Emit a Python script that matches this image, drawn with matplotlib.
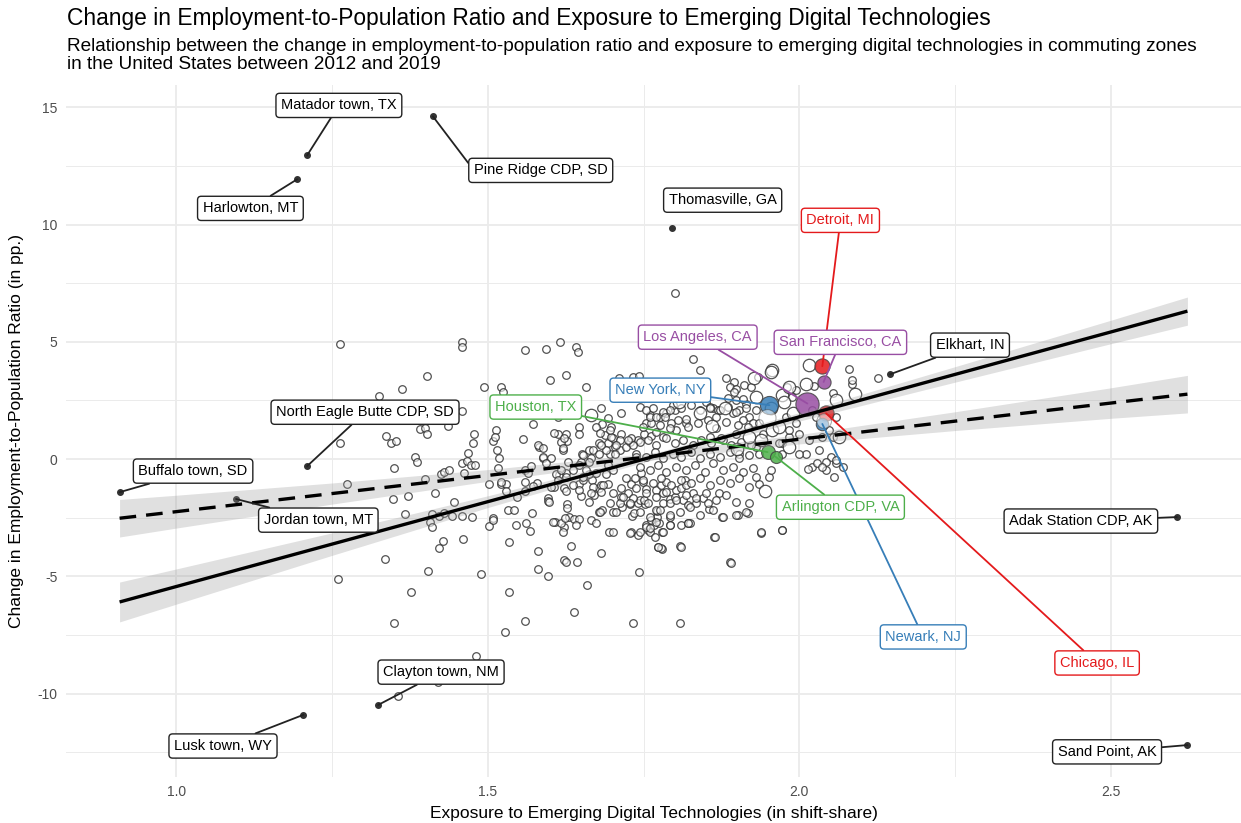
import numpy as np
import matplotlib.pyplot as plt
from matplotlib.ticker import MultipleLocator

plt.rcParams['font.family'] = ['Liberation Sans', 'DejaVu Sans']
plt.rcParams['axes.unicode_minus'] = False

title = "Change in Employment-to-Population Ratio and Exposure to Emerging Digital Technologies"
subtitle = ("Relationship between the change in employment-to-population ratio and exposure to emerging digital technologies in commuting zones\n"
            "in the United States between 2012 and 2019")

# commuting zones (exposure, change in emp-to-pop ratio)
zones = [
    (1.262, 4.91), (1.458, 5.00), (1.458, 4.78), (1.403, 3.54), (1.363, 2.98), (1.326, 2.70),
    (1.494, 3.08), (1.458, 2.06), (1.436, 1.42), (1.391, 1.28), (1.400, 1.33), (1.403, 1.09),
    (1.337, 0.99), (1.345, 0.67), (1.353, 0.78), (1.262, 0.67), (1.478, 1.09), (1.476, 0.69),
    (1.468, 0.27), (1.383, 0.09), (1.387, -0.11), (1.350, -0.38), (1.459, -0.18), (1.466, -0.07),
    (1.473, -0.27), (1.479, -0.26), (1.425, -0.64), (1.430, -0.54), (1.437, -0.47), (1.462, -0.61),
    (1.399, -0.85),
    (1.274, -1.08), (1.348, -1.69), (1.372, -1.59), (1.367, -2.36), (1.416, -1.45), (1.446, -1.82),
    (1.411, -2.33), (1.408, -2.70), (1.410, -2.91), (1.421, -2.43), (1.430, -2.31), (1.443, -2.41),
    (1.459, -2.41), (1.474, -2.46), (1.428, -3.51), (1.422, -3.80), (1.460, -3.42), (1.335, -4.25),
    (1.404, -4.79), (1.489, -4.90), (1.260, -5.10), (1.377, -5.67), (1.350, -7.00), (1.481, -8.39),
    (1.420, -9.51), (1.356, -10.10), (1.502, -2.84),
    (1.534, -3.52), (1.534, -5.68), (1.559, -6.90), (1.528, -7.37), (1.581, -3.91), (1.581, -4.69),
    (1.597, -4.99), (1.608, -2.67), (1.509, -2.50), (1.532, -2.17), (1.542, -2.17), (1.546, -2.81),
    (1.561, -2.71), (1.568, -3.08), (1.571, -2.29), (1.502, -1.04), (1.522, -1.04), (1.529, -1.04),
    (1.529, -1.35), (1.547, -1.63), (1.560, -1.35), (1.560, -0.98), (1.579, -1.01), (1.597, -1.67),
    (1.597, -1.78), (1.560, -0.46), (1.570, -0.30), (1.565, -0.57), (1.516, -0.37), (1.518, 0.04),
    (1.515, 0.38), (1.508, 0.77), (1.588, 0.06), (1.602, 0.06), (1.583, 0.52), (1.580, 0.61),
    (1.633, -3.72), (1.623, -4.30), (1.626, -4.40), (1.643, -4.39), (1.660, -5.37), (1.639, -6.52),
    (1.733, -6.99), (1.808, -7.00), (1.743, -4.83), (1.682, -4.00), (1.773, -3.74), (1.779, -3.85),
    (1.809, -3.72), (1.622, -2.90), (1.630, -2.46), (1.639, -2.56), (1.646, -2.56), (1.641, -2.81),
    (1.665, -2.60), (1.673, -2.71), (1.694, -3.10), (1.679, -2.27), (1.683, -2.17), (1.701, -2.26),
    (1.716, -2.03), (1.728, -1.93), (1.730, -3.10), (1.741, -3.24), (1.732, -2.43), (1.734, -2.31),
    (1.757, -3.00), (1.754, -2.81), (1.767, -2.81), (1.775, -2.71), (1.772, -2.46), (1.772, -2.20),
    (1.761, -3.12), (1.780, -3.12), (1.792, -2.82), (1.810, -2.82), (1.821, -2.71), (1.741, -1.89),
    (1.744, -1.75), (1.752, -1.93), (1.750, -1.75), (1.714, -1.63), (1.725, -1.46), (1.733, -1.67),
    (1.712, -1.89), (1.679, -1.25), (1.682, -1.10), (1.671, -1.55), (1.663, -1.82), (1.650, -1.58),
    (1.627, -1.90), (1.627, -2.08), (1.598, -1.82), (1.607, -1.18), (1.622, -1.25), (1.625, -1.35),
    (1.572, -1.14), (1.615, -0.68), (1.626, -0.61), (1.610, -0.64), (1.647, -1.04), (1.653, -0.89),
    (1.668, -0.89), (1.663, -0.64), (1.690, -0.64), (1.693, -1.04), (1.685, -1.11),
    (1.714, -1.25), (1.722, -0.82), (1.730, -1.04), (1.738, -1.21), (1.737, -0.82), (1.749, -0.97),
    (1.746, -0.61), (1.754, -1.29), (1.770, -1.32), (1.778, -1.11), (1.786, -0.97), (1.781, -1.46),
    (1.792, -1.68), (1.800, -1.60), (1.802, -1.32), (1.810, -1.25), (1.816, -0.90), (1.818, -1.11),
    (1.813, -1.75), (1.821, -1.96), (1.781, -1.89), (1.792, -1.89), (1.770, -2.17), (1.762, -2.60),
    (1.757, -1.89), (1.792, -2.46),
    (1.800, 7.09), (1.559, 4.64), (1.593, 4.69), (1.616, 5.00), (1.642, 4.78), (1.645, 4.57),
    (1.600, 3.38), (1.626, 3.58), (1.657, 3.08), (1.522, 3.08), (1.525, 2.87), (1.710, 3.48),
    (1.733, 3.51), (1.742, 3.55), (1.745, 2.22), (1.682, 2.16), (1.714, 1.95), (1.573, 1.49),
    (1.557, 0.84), (1.513, 1.24), (1.511, 0.95), (1.589, 0.47), (1.612, 1.09), (1.626, 1.09),
    (1.627, 0.78), (1.620, 0.41), (1.618, 0.71), (1.647, 1.38), (1.647, 1.07), (1.652, 0.24),
    (1.663, 0.38), (1.666, 0.03), (1.650, -0.11), (1.613, 1.80),
    (1.684, 1.49), (1.697, 1.38), (1.688, 1.02), (1.679, 0.67), (1.693, 0.67), (1.701, 0.88),
    (1.704, 0.53), (1.712, 0.38), (1.696, 0.24), (1.722, 0.53), (1.728, 0.74), (1.741, 0.81),
    (1.750, 1.06), (1.762, 0.98), (1.770, 1.16), (1.781, 0.95), (1.754, 1.52), (1.760, 1.88),
    (1.776, 1.80), (1.786, 1.95), (1.800, 2.09), (1.810, 2.16), (1.794, 1.52), (1.802, 1.24),
    (1.818, 1.52),
    (1.829, 4.25), (1.841, 3.79), (1.882, 3.44), (1.895, 3.29), (1.888, 3.08), (1.898, 3.01),
    (2.079, 3.86), (2.085, 3.22), (2.127, 3.48), (2.024, 3.11), (1.981, 3.08), (1.989, 2.65),
    (1.885, 2.59), (1.898, 2.51), (1.914, 2.37), (1.904, 2.09), (1.931, 2.09), (1.920, 1.80),
    (1.840, 2.73), (1.850, 2.44), (1.861, 2.16), (1.869, 2.09), (2.021, 2.09), (2.027, 1.80),
    (2.059, 1.80), (2.048, 1.24), (2.054, 0.95), (2.037, 0.95), (2.016, 0.81), (2.032, 0.38),
    (2.051, 0.10), (2.059, -0.18), (2.021, -0.33), (2.029, -0.18),
    (2.085, 3.37), (2.054, 2.80), (1.994, 2.94), (2.011, 0.24), (2.014, -0.40), (2.043, -0.11),
    (2.043, -0.47), (2.056, -0.75), (1.984, 0.95), (1.973, 0.67),
    (1.896, 2.87), (1.912, 3.15), (1.923, 3.08), (1.933, 3.51), (1.909, 2.58), (1.856, 2.23),
    (1.866, 1.81), (1.893, 1.95), (1.909, 1.66), (1.925, 1.52), (1.979, 1.81), (1.984, 1.24),
    (1.995, 1.52), (2.000, 1.09), (1.941, 1.09), (1.898, 1.09), (1.877, 0.81), (1.856, 0.95),
    (1.968, 0.67), (1.931, 0.53), (1.904, 0.24), (1.973, 0.24), (2.000, 0.24), (2.059, -0.04),
    (2.070, -0.33), (2.037, -0.33),
    (1.920, -1.89), (1.917, -2.31), (1.901, -2.39), (1.876, -2.48), (1.939, -3.14), (1.972, -3.01),
    (1.863, -3.31), (1.889, -4.40), (1.824, -2.74), (1.855, -2.14), (1.871, -1.46), (1.845, -1.67),
    (1.834, -1.89), (1.829, -1.46), (1.936, -1.04), (1.952, -0.75), (1.931, -0.75), (1.955, -0.47),
    (1.754, 2.09), (1.765, 2.16), (1.781, 2.02), (1.797, 2.30), (1.826, 2.30), (1.840, 2.09),
    (1.856, 2.16), (1.872, 2.09), (1.885, 2.23), (1.899, 2.02), (1.915, 2.16),
    (1.749, 1.38), (1.762, 1.52), (1.776, 1.45), (1.792, 1.31), (1.805, 1.66), (1.821, 1.38),
    (1.837, 1.52), (1.853, 1.66), (1.866, 1.31), (1.883, 1.59), (1.901, 1.45), (1.917, 1.38),
    (1.936, 1.52),
    (1.744, 0.74), (1.757, 0.81), (1.770, 0.60), (1.786, 0.88), (1.800, 0.67), (1.813, 0.81),
    (1.829, 0.60), (1.842, 0.81), (1.858, 0.67), (1.875, 0.88), (1.891, 0.60), (1.907, 0.74),
    (1.923, 0.60),
    (1.738, 0.24), (1.754, 0.10), (1.768, 0.31), (1.781, 0.03), (1.797, 0.24), (1.810, 0.10),
    (1.826, 0.31), (1.840, 0.03), (1.856, 0.24), (1.872, 0.10), (1.888, 0.31), (1.904, 0.03),
    (1.920, 0.17), (1.936, 0.24),
    (1.744, -0.32), (1.760, -0.47), (1.773, -0.25), (1.786, -0.54), (1.802, -0.32), (1.818, -0.47),
    (1.832, -0.25), (1.848, -0.54), (1.861, -0.18), (1.877, -0.47), (1.893, -0.32), (1.909, -0.54),
    (1.925, -0.39),
    (1.749, -0.89), (1.765, -1.03), (1.778, -0.82), (1.794, -1.10), (1.810, -0.89), (1.826, -1.03),
    (1.840, -0.82), (1.856, -1.10), (1.872, -0.89), (1.888, -1.03), (1.904, -0.82), (1.920, -1.18),
    (1.754, -1.46), (1.770, -1.60), (1.786, -1.39), (1.802, -1.74), (1.818, -1.53), (1.834, -1.67),
    (1.850, -1.46), (1.866, -1.74), (1.883, -1.53), (1.899, -1.82),
    (1.744, -2.24), (1.760, -2.45), (1.776, -2.17), (1.792, -2.38), (1.808, -2.24), (1.824, -2.03),
    (1.840, -2.38), (1.853, -1.89), (1.861, -2.17), (1.877, -2.45), (1.899, -2.38), (1.915, -2.24),
    (1.754, -2.88), (1.770, -2.67), (1.781, -3.09), (1.792, -2.81), (1.821, -2.74), (1.864, -3.31),
    (1.939, -3.09), (1.973, -3.02), (1.890, -4.42), (1.810, -3.73), (1.778, -3.80), (1.773, -3.73),
    (1.761, 1.78), (1.770, 1.78), (1.784, 1.80), (1.792, 2.09), (1.818, 1.73),
    (1.714, 1.09), (1.730, 0.88), (1.733, 0.60), (1.738, 0.10), (1.725, 0.81), (1.712, 0.81),
    (1.698, 0.95), (1.706, 0.60), (1.704, 0.24), (1.690, 0.38), (1.682, 0.60), (1.669, 0.38),
    (1.663, -0.11), (1.679, 0.24), (1.693, -0.26), (1.701, -0.47), (1.674, -0.61), (1.658, -0.47),
    (1.647, -0.26), (1.653, -0.75), (1.637, -0.47), (1.629, -0.11), (1.618, -0.47), (1.626, -0.75),
    (1.613, -0.89), (1.602, -1.18), (1.637, -1.11), (1.647, -1.32), (1.669, -1.18), (1.682, -1.39),
    (1.701, -1.46), (1.717, -1.61), (1.728, -1.89),
    (1.522, -0.96), (1.589, 0.10), (1.594, -0.18), (1.607, 1.10), (1.623, 0.88), (1.621, 0.46),
    (1.653, 0.17), (1.674, 1.38), (1.680, 1.10), (1.693, 1.74), (1.696, 1.24),
    (1.509, -2.60), (1.605, -2.67), (1.618, -2.74), (1.624, -2.53), (1.621, -3.09), (1.680, -2.24),
    (1.696, -1.89), (1.706, -2.24), (1.666, -1.46), (1.701, -3.09), (1.728, -3.17), (1.744, -3.09),
    (1.760, -2.95), (1.768, -3.31),
]

# larger (more populous) commuting zones
large_zones = [
    (1.666, 1.87), (1.957, 3.79), (1.955, 3.70), (2.016, 4.00), (2.090, 2.76), (1.957, 1.24),
    (1.928, 3.46), (1.973, 2.73), (1.984, 3.08), (2.010, 3.22), (1.931, 2.66), (1.968, 1.38),
    (1.984, 0.53), (1.920, 0.95), (1.840, 1.95), (1.976, 2.44), (2.064, 0.95), (2.059, 2.51),
    (1.939, 0.81), (1.945, -1.35), (1.880, 2.20), (1.990, 1.95), (1.955, 2.20), (1.900, 0.45),
    (1.860, 1.40), (1.807, 2.45),
]

# outliers shown as dots with black labels: name, x, y, label x, label y
outliers = [
    ("Matador town, TX", 1.210, 12.95, 1.261, 15.08),
    ("Harlowton, MT", 1.194, 11.93, 1.119, 10.69),
    ("Pine Ridge CDP, SD", 1.412, 14.61, 1.585, 12.31),
    ("Thomasville, GA", 1.796, 9.84, 1.877, 11.04),
    ("Elkhart, IN", 2.146, 3.62, 2.274, 4.86),
    ("North Eagle Butte CDP, SD", 1.210, -0.30, 1.303, 2.00),
    ("Buffalo town, SD", 0.909, -1.41, 1.027, -0.51),
    ("Jordan town, MT", 1.096, -1.70, 1.228, -2.60),
    ("Adak Station CDP, AK", 2.606, -2.47, 2.452, -2.64),
    ("Clayton town, NM", 1.324, -10.48, 1.425, -9.08),
    ("Lusk town, WY", 1.204, -10.90, 1.075, -12.23),
    ("Sand Point, AK", 2.623, -12.19, 2.494, -12.48),
]

# large cities coloured by pair: name, x, y, label x, label y, colour, marker size
cities = [
    ("Detroit, MI", 2.037, 3.96, 2.066, 10.18, "#E41A1C", 120),
    ("San Francisco, CA", 2.039, 3.29, 2.066, 4.98, "#984EA3", 90),
    ("Los Angeles, CA", 2.013, 2.37, 1.837, 5.20, "#984EA3", 280),
    ("New York, NY", 1.952, 2.30, 1.777, 2.94, "#377EB8", 170),
    ("Chicago, IL", 2.043, 1.95, 2.478, -8.69, "#E41A1C", 120),
    ("Newark, NJ", 2.037, 1.50, 2.199, -7.58, "#377EB8", 80),
    ("Houston, TX", 1.949, 0.30, 1.577, 2.22, "#4DAF4A", 100),
    ("Arlington CDP, VA", 1.962, 0.10, 2.066, -2.05, "#4DAF4A", 75),
]

# fitted lines (endpoints) and confidence band half-widths
fit_x = [0.909, 2.623]
fit_weighted = [-6.09, 6.31]
fit_unweighted = [-2.52, 2.77]
band_x = [0.909, 1.0, 1.25, 1.5, 1.75, 2.0, 2.25, 2.5, 2.623]
band_weighted = [0.85, 0.75, 0.48, 0.25, 0.13, 0.18, 0.33, 0.50, 0.60]
band_unweighted = [0.80, 0.70, 0.45, 0.25, 0.15, 0.20, 0.40, 0.65, 0.80]

fig = plt.figure(figsize=(12.41, 8.23), dpi=100)
ax = fig.add_axes([66 / 1241, 46.5 / 823, 1175 / 1241, 691.5 / 823])

ax.set_xlim(0.823, 2.709)
ax.set_ylim(-13.53, 15.95)
ax.xaxis.set_major_locator(MultipleLocator(0.5))
ax.xaxis.set_minor_locator(MultipleLocator(0.25))
ax.yaxis.set_major_locator(MultipleLocator(5))
ax.yaxis.set_minor_locator(MultipleLocator(2.5))
ax.grid(which='major', color='#EBEBEB', lw=1.3)
ax.grid(which='minor', color='#EBEBEB', lw=0.7)
ax.set_axisbelow(True)
for s in ax.spines.values():
    s.set_visible(False)
ax.tick_params(which='both', length=0, labelsize=10, labelcolor='#4D4D4D', pad=6)
ax.set_xticks([1.0, 1.5, 2.0, 2.5])
ax.set_xticklabels(["1.0", "1.5", "2.0", "2.5"])

zx, zy = zip(*zones)
ax.scatter(zx, zy, s=30, facecolor=(1, 1, 1, 0.6), edgecolor=(0.2, 0.2, 0.2, 0.85), lw=0.9, zorder=2)
lx_, ly_ = zip(*large_zones)
ax.scatter(lx_, ly_, s=80, facecolor=(1, 1, 1, 0.6), edgecolor=(0.2, 0.2, 0.2, 0.85), lw=0.9, zorder=2)

for name, x, y, tx, ty, c, sz in cities:
    ax.scatter([x], [y], s=sz, color=c, alpha=0.85, edgecolor='#444444', lw=0.8, zorder=3)
# light overlapping zones on top of New York and Newark
ax.scatter([1.949, 2.040], [1.75, 1.62], s=[150, 110], facecolor=(1, 1, 1, 0.55),
           edgecolor=(0.2, 0.2, 0.2, 0.4), lw=0.8, zorder=3)

ox = [o[1] for o in outliers]
oy = [o[2] for o in outliers]
ax.scatter(ox, oy, s=16, color='#333333', zorder=3)

ax.fill_between(band_x, np.interp(band_x, fit_x, fit_weighted) - band_weighted,
                np.interp(band_x, fit_x, fit_weighted) + band_weighted,
                color='#999999', alpha=0.3, lw=0, zorder=4)
ax.fill_between(band_x, np.interp(band_x, fit_x, fit_unweighted) - band_unweighted,
                np.interp(band_x, fit_x, fit_unweighted) + band_unweighted,
                color='#999999', alpha=0.3, lw=0, zorder=4)
ax.plot(fit_x, fit_weighted, color='black', lw=2.4, zorder=5, solid_capstyle='butt')
ax.plot(fit_x, fit_unweighted, color='black', lw=2.4, dashes=(5, 3), zorder=5)

# segment start inside the label box (ggrepel-like), a few
seg_from = {"Pine Ridge CDP, SD": (0.0, 0.5)}
no_segment = {"Thomasville, GA"}


def label(name, x, y, tx, ty, c, tc):
    arrow = None
    if name not in no_segment:
        arrow = dict(arrowstyle='-', color=c, lw=1.3, shrinkA=0, shrinkB=0,
                     relpos=seg_from.get(name, (0.5, 0.5)))
    ax.annotate(name, xy=(x, y), xytext=(tx, ty), textcoords='data',
                ha='center', va='center', fontsize=10.5, color=tc,
                bbox=dict(boxstyle='round,pad=0.35,rounding_size=0.25', fc='white', ec=c, lw=1),
                arrowprops=arrow, annotation_clip=False, zorder=10)


for name, x, y, tx, ty in outliers:
    label(name, x, y, tx, ty, '#222222', 'black')
for name, x, y, tx, ty, c, sz in cities:
    label(name, x, y, tx, ty, c, c)

ax.set_xlabel("Exposure to Emerging Digital Technologies (in shift-share)", fontsize=12.5, labelpad=5)
ax.set_ylabel("Change in Employment-to-Population Ratio (in pp.)", fontsize=12.5, labelpad=10)

fig.text(67 / 1241, 1 - 18 / 823, title, fontsize=16.4, va='center', ha='left')
fig.text(67 / 1241, 1 - 38 / 823, subtitle, fontsize=13.7, va='top', ha='left', linespacing=1.1)

fig.savefig("out.png", dpi=100)
